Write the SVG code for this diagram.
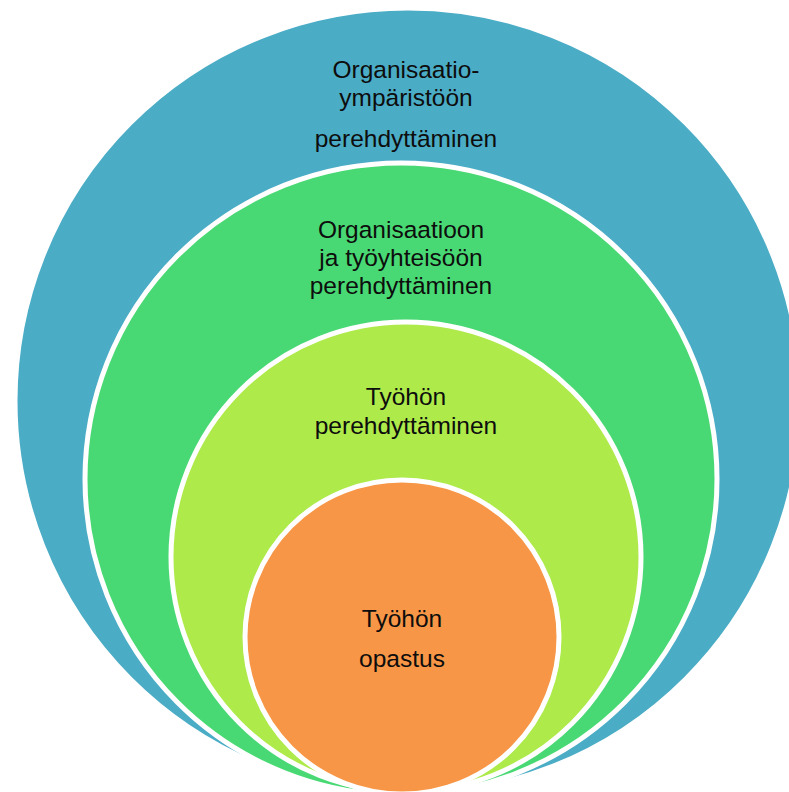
<svg xmlns="http://www.w3.org/2000/svg" width="789" height="792" viewBox="0 0 789 792">
<style>
.ring{stroke:#fff;stroke-width:5}
.lbl{font-family:"Liberation Sans",Arial,sans-serif;font-size:24.5px;fill:#0d0d0d;text-anchor:middle}
</style>
<rect width="789" height="792" fill="#fff"/>
<g id="outer">
<circle class="ring" cx="408" cy="401" r="393" fill="#4BACC6"/>
<text class="lbl" x="406" y="78">Organisaatio-</text>
<text class="lbl" x="406" y="106">ympäristöön</text>
<text class="lbl" x="406" y="147">perehdyttäminen</text>
</g>
<g id="org">
<circle class="ring" cx="401" cy="479" r="316" fill="#49D974"/>
<text class="lbl" x="401" y="238">Organisaatioon</text>
<text class="lbl" x="401" y="266">ja työyhteisöön</text>
<text class="lbl" x="401" y="294">perehdyttäminen</text>
</g>
<g id="work">
<circle class="ring" cx="406" cy="557" r="235" fill="#ADEA4A"/>
<text class="lbl" x="406" y="405">Työhön</text>
<text class="lbl" x="406" y="434">perehdyttäminen</text>
</g>
<g id="guide">
<circle class="ring" cx="402" cy="637" r="157" fill="#F79646"/>
<text class="lbl" x="402" y="627">Työhön</text>
<text class="lbl" x="402" y="667">opastus</text>
</g>
<g id="connectors"/>
</svg>
